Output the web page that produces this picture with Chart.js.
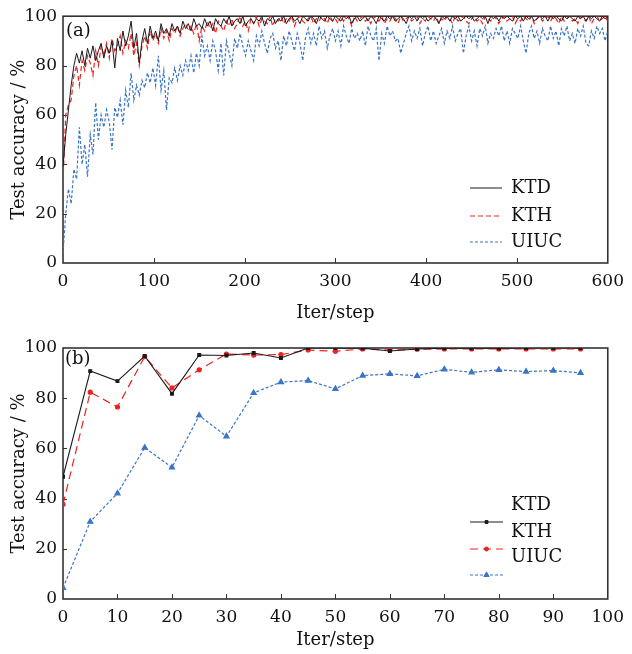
<!DOCTYPE html>
<html>
<head>
<meta charset="utf-8">
<script src="https://cdn.jsdelivr.net/npm/chart.js@4.4.1/dist/chart.umd.min.js"></script>
<style>
  body { margin: 0; background: #fff; }
  #wrap { position: relative; width: 632px; height: 654px; }
  canvas { position: absolute; left: 0; }
  #chartA { top: 0; }
  #chartB { top: 327px; }
</style>
</head>
<body>
<div id="wrap">
  <canvas id="chartA" width="632" height="327"></canvas>
  <canvas id="chartB" width="632" height="327"></canvas>
</div>
<script>
// (a) test accuracy read every 3 iterations, 0..600
const SAMPLE_EVERY = 3;
const ktdA = [
  39, 52, 62, 72, 80, 85, 81, 86, 80, 87,
  83, 88, 82, 86, 89, 83, 88, 85, 90, 79,
  91, 86, 94, 88, 92, 98, 87, 93, 81, 90,
  95, 89, 96, 91, 94, 90, 97, 93, 95, 92,
  97, 94, 96, 93, 98, 95, 97, 94, 99, 96,
  97, 95, 99, 96, 98, 94, 99, 97, 96, 99,
  97, 100, 96, 98, 99, 97, 100, 96, 98, 99,
  97, 99, 98, 100, 96, 99, 98, 100, 97, 99,
  98, 100, 97, 99, 100, 98, 99, 97, 100, 99,
  98, 100, 99, 97, 100, 99, 98, 100, 99, 98,
  100, 99, 98, 100, 99, 100, 97, 99, 100, 98,
  99, 100, 98, 100, 99, 97, 100, 99, 98, 100,
  99, 100, 98, 99, 100, 99, 97, 100, 99, 100,
  98, 100, 99, 100, 98, 99, 100, 99, 97, 100,
  99, 100, 98, 100, 99, 100, 98, 99, 100, 99,
  100, 98, 99, 100, 99, 100, 97, 100, 99, 100,
  98, 100, 99, 100, 99, 98, 100, 99, 100, 98,
  100, 99, 100, 98, 99, 100, 99, 100, 98, 100,
  99, 100, 99, 98, 100, 99, 100, 99, 98, 100,
  99, 100, 98, 100, 99, 100, 99, 98, 100, 99,
  100
];
const kthA = [
  33, 60, 64, 66, 76, 80, 72, 82, 78, 84,
  81, 76, 86, 80, 88, 84, 89, 83, 91, 86,
  88, 92, 85, 90, 87, 93, 84, 89, 80, 88,
  92, 87, 94, 90, 93, 89, 95, 91, 94, 90,
  95, 93, 96, 92, 95, 97, 94, 96, 93, 97,
  90, 96, 94, 98, 95, 97, 93, 98, 96, 94,
  98, 96, 99, 95, 97, 100, 96, 98, 94, 99,
  97, 100, 96, 99, 98, 97, 100, 96, 99, 98,
  100, 97, 99, 98, 100, 96, 99, 100, 98, 97,
  99, 100, 97, 99, 98, 100, 99, 97, 100, 98,
  99, 97, 100, 98, 100, 99, 96, 100, 98, 99,
  100, 98, 99, 97, 100, 99, 98, 100, 97, 99,
  98, 100, 99, 97, 100, 98, 99, 100, 98, 99,
  100, 97, 99, 98, 100, 99, 98, 100, 97, 99,
  98, 100, 99, 97, 100, 98, 99, 100, 98, 97,
  99, 100, 98, 99, 97, 100, 99, 98, 100, 99,
  97, 99, 100, 98, 99, 100, 97, 99, 98, 100,
  99, 98, 100, 97, 99, 100, 98, 99, 100, 98,
  100, 99, 97, 100, 98, 99, 100, 98, 99, 97,
  100, 99, 98, 100, 97, 99, 100, 98, 99, 100,
  98
];
const uiucA = [
  4, 20, 30, 24, 38, 34, 55, 40, 48, 35,
  52, 44, 65, 50, 60, 55, 62, 57, 46, 63,
  59, 66, 56, 70, 63, 77, 66, 72, 68, 74,
  71, 77, 73, 79, 72, 84, 70, 78, 62, 75,
  73, 79, 74, 80, 76, 82, 78, 84, 77, 85,
  80, 92, 84, 88, 82, 90, 86, 78, 89, 76,
  90, 85, 80, 91, 87, 93, 88, 84, 90, 86,
  82, 92, 88, 94, 89, 85, 91, 93, 87, 90,
  82, 92, 88, 94, 90, 86, 93, 89, 82, 91,
  95, 89, 93, 88, 96, 91, 94, 87, 92, 95,
  90, 94, 88, 96, 92, 89, 95, 91, 93, 90,
  94, 88, 96, 92, 90, 95, 82, 93, 89, 96,
  92, 94, 90, 91, 85, 89, 93, 96, 90, 94,
  91, 95, 88, 93, 96, 90, 94, 89, 92, 95,
  89, 94, 91, 96, 90, 93, 95, 85, 92, 96,
  90, 94, 88, 95, 92, 96, 89, 93, 91, 95,
  92, 96, 90, 94, 89, 95, 93, 91, 96, 90,
  85, 93, 96, 91, 94, 89, 95, 92, 90, 96,
  91, 94, 88, 95, 92, 96, 90, 93, 89, 95,
  92, 96, 89, 88, 94, 91, 96, 93, 95, 90,
  94
];
const iterA = ktdA.map((_, i) => i * SAMPLE_EVERY);

// (b) test accuracy every 5 iterations
const iterB = [0, 5, 10, 15, 20, 25, 30, 35, 40, 45, 50, 55, 60, 65, 70, 75, 80, 85, 90, 95];
const ktdB = [48.7, 90.8, 86.8, 96.8, 81.8, 97.2, 97.0, 98.0, 96.0, 100, 100, 99.9, 98.8, 99.6, 99.9, 99.9, 99.9, 100, 100, 100];
const kthB = [37.7, 82.4, 76.5, 96.6, 84.1, 91.3, 97.6, 97.2, 97.4, 99.2, 98.7, 99.6, 99.2, 99.5, 99.6, 99.6, 99.6, 99.6, 99.6, 99.6];
const uiucB = [4.4, 30.8, 42.1, 60.3, 52.4, 73.1, 64.8, 82.1, 86.4, 87.0, 83.7, 89.0, 89.7, 88.9, 91.5, 90.3, 91.3, 90.6, 91.0, 90.1];

const seriesNames = ['KTD', 'KTH', 'UIUC'];
const xTicksA = [0, 100, 200, 300, 400, 500, 600];
const xTicksB = [0, 10, 20, 30, 40, 50, 60, 70, 80, 90, 100];
const yTicks = [0, 20, 40, 60, 80, 100];

const BLACK = '#1a1a1a', RED = '#f0201e', BLUE = '#3a74c6';

Chart.defaults.font.family = "'DejaVu Serif', serif";
Chart.defaults.font.size = 17;
Chart.defaults.color = '#111';

function toPoints(xs, ys) {
  return xs.map((x, i) => ({ x: x, y: ys[i] }));
}

// box round the plot and short ticks pointing inwards
const frameTicks = {
  id: 'frameTicks',
  beforeDatasetsDraw(chart) {
    const { ctx, chartArea: a, scales } = chart;
    ctx.save();
    ctx.strokeStyle = '#333';
    ctx.lineWidth = 1;
    scales.x.ticks.forEach(t => {
      if (t.value <= scales.x.min || t.value >= scales.x.max) return;
      const px = Math.round(scales.x.getPixelForValue(t.value)) + 0.5;
      ctx.beginPath(); ctx.moveTo(px, a.bottom); ctx.lineTo(px, a.bottom - 5); ctx.stroke();
    });
    scales.y.ticks.forEach(t => {
      if (t.value <= scales.y.min || t.value >= scales.y.max) return;
      const py = Math.round(scales.y.getPixelForValue(t.value)) + 0.5;
      ctx.beginPath(); ctx.moveTo(a.left, py); ctx.lineTo(a.left + 4, py); ctx.stroke();
    });
    ctx.lineWidth = 1.6;
    ctx.strokeRect(a.left, a.top, a.right - a.left, a.bottom - a.top);
    ctx.restore();
  },
  afterDraw(chart, args, opts) {
    const ctx = chart.ctx;
    ctx.save();
    ctx.font = "18px 'DejaVu Serif', serif";
    ctx.fillStyle = '#111';
    ctx.textBaseline = 'middle';
    ctx.fillText(opts.panel, opts.panelX, opts.panelY);
    // legend
    const L = opts.legend;
    chart.data.datasets.forEach((ds, i) => {
      const ly = L.lineY[i];
      ctx.strokeStyle = ds.borderColor;
      ctx.lineWidth = ds.borderWidth;
      ctx.setLineDash(ds.borderDash || []);
      ctx.beginPath(); ctx.moveTo(L.x0, ly); ctx.lineTo(L.x1, ly); ctx.stroke();
      ctx.setLineDash([]);
      if (ds.pointRadius > 0) {
        ctx.fillStyle = ds.pointBackgroundColor;
        ctx.strokeStyle = ds.pointBorderColor;
        ctx.lineWidth = 1;
        Chart.helpers.drawPoint(ctx, { pointStyle: ds.pointStyle, radius: ds.pointRadius, borderWidth: 1, rotation: 0 }, (L.x0 + L.x1) / 2, ly);
      }
      ctx.fillStyle = '#111';
      ctx.fillText(ds.label, L.textX, L.textY[i]);
    });
    ctx.restore();
  }
};

function makeScales(xMax, step, xList) {
  return {
    x: {
      type: 'linear', min: 0, max: xMax,
      afterBuildTicks: s => { s.ticks = xList.map(v => ({ value: v })); },
      grid: { display: false, drawTicks: false },
      border: { display: false },
      ticks: { padding: 8, maxRotation: 0, font: { size: 17 } },
      title: { display: true, text: 'Iter/step', font: { size: 18 }, padding: { top: 0, bottom: 3 } },
      afterFit: s => { s.height = 55; }
    },
    y: {
      min: 0, max: 100,
      afterBuildTicks: s => { s.ticks = yTicks.map(v => ({ value: v })); },
      grid: { display: false, drawTicks: false },
      border: { display: false },
      ticks: { padding: 6, font: { size: 17 } },
      title: { display: true, text: 'Test accuracy / %', font: { size: 18 }, padding: { top: 9, bottom: 0 } },
      afterFit: s => { s.width = 63; }
    }
  };
}

const baseOpts = {
  responsive: false,
  animation: false,
  devicePixelRatio: 1,
  events: [],
  plugins: { legend: { display: false }, tooltip: { enabled: false } }
};

const optsA = Object.assign({}, baseOpts, {
  layout: { padding: { top: 15, right: 24, left: 0, bottom: 0 } },
  scales: makeScales(600, 100, xTicksA),
  plugins: Object.assign({}, baseOpts.plugins, {
    frameTicks: {
      panel: '(a)', panelX: 66, panelY: 31,
      legend: { x0: 470, x1: 502, textX: 511, lineY: [188, 216, 242], textY: [188, 216, 242] }
    }
  })
});
optsA.scales.x.afterFit = s => { s.height = 64; };

new Chart(document.getElementById('chartA'), {
  type: 'line',
  data: {
    datasets: [
      { label: seriesNames[0], data: toPoints(iterA, ktdA), borderColor: BLACK, borderWidth: 1, pointRadius: 0, tension: 0 },
      { label: seriesNames[1], data: toPoints(iterA, kthA), borderColor: RED, borderWidth: 1.2, borderDash: [5, 3], pointRadius: 0, tension: 0 },
      { label: seriesNames[2], data: toPoints(iterA, uiucA), borderColor: BLUE, borderWidth: 1.2, borderDash: [3, 2], pointRadius: 0, tension: 0 }
    ]
  },
  options: optsA,
  plugins: [frameTicks]
});

const optsB = Object.assign({}, baseOpts, {
  layout: { padding: { top: 21, right: 24, left: 0, bottom: 0 } },
  scales: makeScales(100, 10, xTicksB),
  plugins: Object.assign({}, baseOpts.plugins, {
    frameTicks: {
      panel: '(b)', panelX: 65, panelY: 32,
      legend: { x0: 470, x1: 503, textX: 511, lineY: [195, 222, 248], textY: [178, 205, 230] }
    }
  })
});

new Chart(document.getElementById('chartB'), {
  type: 'line',
  data: {
    datasets: [
      { label: seriesNames[0], data: toPoints(iterB, ktdB), borderColor: BLACK, borderWidth: 1.1, pointStyle: 'rect', pointRadius: 2, pointBackgroundColor: BLACK, pointBorderColor: BLACK, tension: 0 },
      { label: seriesNames[1], data: toPoints(iterB, kthB), borderColor: RED, borderWidth: 1.2, borderDash: [8, 5], pointStyle: 'circle', pointRadius: 2, pointBackgroundColor: RED, pointBorderColor: RED, tension: 0 },
      { label: seriesNames[2], data: toPoints(iterB, uiucB), borderColor: BLUE, borderWidth: 1.2, borderDash: [3, 2], pointStyle: 'triangle', pointRadius: 3, pointBackgroundColor: BLUE, pointBorderColor: BLUE, tension: 0 }
    ]
  },
  options: optsB,
  plugins: [frameTicks]
});
</script>
</body>
</html>
